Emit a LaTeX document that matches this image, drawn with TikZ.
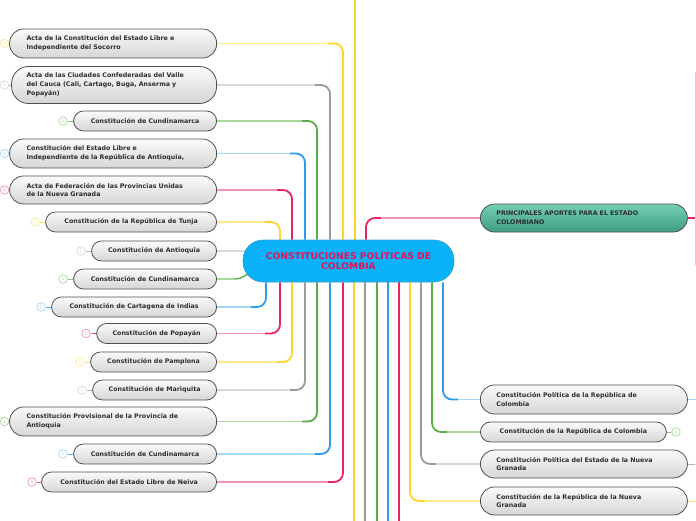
\documentclass[tikz,border=0pt]{standalone}
\usepackage{fontspec}
\setmainfont{DejaVu Sans}
\usetikzlibrary{calc,backgrounds}
\definecolor{ylw}{HTML}{FFD52A}
\definecolor{ylwL}{HTML}{FFE98F}
\definecolor{gry}{HTML}{9B9B9B}
\definecolor{gryL}{HTML}{D9D9D9}
\definecolor{grn}{HTML}{5CAD48}
\definecolor{grnL}{HTML}{A9D89C}
\definecolor{blu}{HTML}{2C9CE8}
\definecolor{bluL}{HTML}{A3D6F7}
\definecolor{pnk}{HTML}{E82560}
\definecolor{pnkL}{HTML}{F494B4}
\definecolor{bord}{HTML}{505050}
\definecolor{boxtop}{HTML}{FAFAFA}
\definecolor{boxbot}{HTML}{D6D6D6}
\definecolor{txt}{HTML}{2E2E2E}
\definecolor{cfill}{HTML}{0AB1F7}
\definecolor{cbord}{HTML}{3A9FD6}
\definecolor{ctxt}{HTML}{E3145C}
\definecolor{tealT}{HTML}{74CFB4}
\definecolor{tealB}{HTML}{3F9D83}
\tikzset{
  box/.style={draw=bord, line width=0.8pt, top color=boxtop, bottom color=boxbot,
    font=\bfseries\fontsize{6.3}{8.8}\selectfont, text=txt, inner sep=0pt, anchor=east},
  sz/.style n args={3}{minimum width=#1, minimum height=#2, rounded corners=#3},
  tw/.style={text width=#1, align=left},
  circ/.style={circle, draw=#1L, fill=white, line width=0.7pt, minimum size=8.5pt,
    inner sep=0pt, font=\fontsize{4.5}{5}\selectfont, text=#1L},
  trunk/.style={line width=1.8pt, rounded corners=9pt},
  twig/.style={line width=1.4pt},
}
\newcommand\lconn[3]{%
  \draw[twig,#1L] (#2.east) -- ($(#3 |- #2.east)+(-15pt,0)$);
  \draw[trunk,#1] ($(#3 |- #2.east)+(-15pt,0)$) -| (#3);
}
\newcommand\rconn[3]{%
  \draw[trunk,#1] (#3) |- ($(#3 |- #2.west)+(15pt,0)$);
  \draw[twig,#1L] ($(#3 |- #2.west)+(15pt,0)$) -- (#2.west);
}
\newcommand\cconn[3]{%
  \draw[line width=1pt,#1!75] (#2) -- (#3);
}
\begin{document}
\begin{tikzpicture}[x=1pt,y=-1pt]
\useasboundingbox (0,0) rectangle (696,520);
\clip (0,0) rectangle (696,520);
% centre node
\node[draw=cbord, fill=cfill, line width=0.6pt, rounded corners=20pt,
  minimum width=211pt, minimum height=42pt, inner sep=0pt, align=center,
  font=\bfseries\fontsize{9.2}{10.7}\selectfont, text=ctxt] (cn) at (348.5,261)
  {CONSTITUCIONES POLITICAS DE\\COLOMBIA};
% trunk coordinates
\coordinate (vt1) at ([xshift=-68.5pt]cn.north);
\coordinate (vt2) at ([xshift=-56.5pt]cn.north);
\coordinate (vt3) at ([xshift=-43.5pt]cn.north);
\coordinate (vt4) at ([xshift=-31.5pt]cn.north);
\coordinate (vt5) at ([xshift=-18.5pt]cn.north);
\coordinate (vt6) at ([xshift=-5.5pt]cn.north);
\coordinate (vt7) at ([xshift=6.5pt]cn.north);
\coordinate (vt8) at ([xshift=17.5pt]cn.north);
\coordinate (vb1) at ([xshift=-82.5pt]cn.south);
\coordinate (vb2) at ([xshift=-68.5pt]cn.south);
\coordinate (vb3) at ([xshift=-56.5pt]cn.south);
\coordinate (vb4) at ([xshift=-43.5pt]cn.south);
\coordinate (vb5) at ([xshift=-31.5pt]cn.south);
\coordinate (vb6) at ([xshift=-18.5pt]cn.south);
\coordinate (vb7) at ([xshift=-5.5pt]cn.south);
\coordinate (vb8) at ([xshift=5.5pt]cn.south);
\coordinate (vb9) at ([xshift=16.5pt]cn.south);
\coordinate (vb10) at ([xshift=28.5pt]cn.south);
\coordinate (vb11) at ([xshift=39.5pt]cn.south);
\coordinate (vb12) at ([xshift=50.5pt]cn.south);
\coordinate (vb13) at ([xshift=61.5pt]cn.south);
\coordinate (vb14) at ([xshift=72.5pt]cn.south);
\coordinate (vb15) at ([xshift=83.5pt]cn.south);
\coordinate (vb16) at ([xshift=94.5pt]cn.south);
\coordinate (top1) at (355,-3);
\coordinate (bo8) at (354,523);
\coordinate (bo9) at (365,523);
\coordinate (bo10) at (377,523);
\coordinate (bo11) at (388,523);
\coordinate (bo12) at (399,523);
\coordinate (pe) at (699,218);
\coordinate (pv1) at (695,72);
\coordinate (pv2) at (695,265);
\coordinate (re1) at (699,399.5);
% left nodes
\node[box, sz={207pt}{29pt}{14pt}, tw=173pt] (n1) at (217,43.5) {Acta de la Constitución del Estado Libre e\\Independiente del Socorro};
\node[box, sz={205pt}{37pt}{17pt}, tw=175pt] (n2) at (217,85) {Acta de las Ciudades Confederadas del Valle\\del Cauca (Cali, Cartago, Buga, Anserma y\\Popayán)};
\node[box, sz={143pt}{20pt}{10pt}] (n3) at (217,121) {Constitución de Cundinamarca};
\node[box, sz={207pt}{29pt}{14pt}, tw=173pt] (n4) at (217,153.5) {Constitución del Estado Libre e\\Independiente de la República de Antioquia,};
\node[box, sz={207pt}{28pt}{14pt}, tw=173pt] (n5) at (217,190) {Acta de Federación de las Provincias Unidas\\de la Nueva Granada};
\node[box, sz={171pt}{20pt}{10pt}] (n6) at (217,222) {Constitución de la República de Tunja};
\node[box, sz={125pt}{20pt}{10pt}] (n7) at (217,251) {Constitución de Antioquia};
\node[box, sz={143pt}{20pt}{10pt}] (n8) at (217,279) {Constitución de Cundinamarca};
\node[box, sz={165pt}{20pt}{10pt}] (n9) at (217,307) {Constitución de Cartagena de Indias};
\node[box, sz={120pt}{20pt}{10pt}] (n10) at (217,333.5) {Constitución de Popayán};
\node[box, sz={126pt}{20pt}{10pt}] (n11) at (217,362) {Constitución de Pamplona};
\node[box, sz={124pt}{20pt}{10pt}] (n12) at (217,390) {Constitución de Mariquita};
\node[box, sz={207pt}{29pt}{14pt}, tw=173pt] (n13) at (217,421.5) {Constitución Provisional de la Provincia de\\Antioquia};
\node[box, sz={143pt}{20pt}{10pt}] (n14) at (217,454) {Constitución de Cundinamarca};
\node[box, sz={175pt}{20pt}{10pt}] (n15) at (217,482) {Constitución del Estado Libre de Neiva};
% right nodes
\node[box, anchor=west, top color=tealT, bottom color=tealB, draw=bord, sz={207pt}{28pt}{14pt}, tw=175pt] (pa) at (480,218) {PRINCIPALES APORTES PARA EL ESTADO\\COLOMBIANO};
\node[box, anchor=west, sz={207pt}{29pt}{14pt}, tw=175pt] (r1) at (480,399.5) {Constitución Política de la República de\\Colombia};
\node[box, anchor=west, sz={186pt}{20pt}{10pt}] (r2) at (480,432) {Constitución de la República de Colombia};
\node[box, anchor=west, sz={207pt}{28pt}{14pt}, tw=175pt] (r3) at (480,464) {Constitución Política del Estado de la Nueva\\Granada};
\node[box, anchor=west, sz={207pt}{28pt}{14pt}, tw=175pt] (r4) at (480,501) {Constitución de la República de la Nueva\\Granada};
% circles
\node[circ=ylw] (c1) at (4.6,43.5) {1};
\node[circ=gry] (c2) at (4.6,85) {1};
\node[circ=grn] (c3) at (63,121) {1};
\node[circ=blu] (c4) at (4.6,153.5) {1};
\node[circ=pnk] (c5) at (4.6,190) {1};
\node[circ=ylw] (c6) at (35,222) {1};
\node[circ=gry] (c7) at (81,251) {1};
\node[circ=grn] (c8) at (63,279) {1};
\node[circ=blu] (c9) at (41,307) {1};
\node[circ=pnk] (c10) at (86,333.5) {1};
\node[circ=ylw] (c11) at (80,362) {1};
\node[circ=gry] (c12) at (82,390) {1};
\node[circ=grn] (c13) at (4.6,421.5) {1};
\node[circ=blu] (c14) at (63,454) {1};
\node[circ=pnk] (c15) at (32,482) {1};
\node[circ=grn] (cr2) at (676,432) {1};
\node[circ=gry] (cr3) at (700,464) {};
\node[circ=ylw] (cr4) at (700,501) {};
\begin{scope}[on background layer]
% circle links
\cconn{ylw}{c1}{n1}\cconn{gry}{c2}{n2}\cconn{grn}{c3}{n3}\cconn{blu}{c4}{n4}
\cconn{pnk}{c5}{n5}\cconn{ylw}{c6}{n6}\cconn{gry}{c7}{n7}\cconn{grn}{c8}{n8}
\cconn{blu}{c9}{n9}\cconn{pnk}{c10}{n10}\cconn{ylw}{c11}{n11}\cconn{gry}{c12}{n12}
\cconn{grn}{c13}{n13}\cconn{blu}{c14}{n14}\cconn{pnk}{c15}{n15}
\cconn{grn}{r2}{cr2}\cconn{gry}{r3}{cr3}\cconn{ylw}{r4}{cr4}
% connectors
\lconn{ylw}{n1}{vt6}
\lconn{gry}{n2}{vt5}
\lconn{grn}{n3}{vt4}
\lconn{blu}{n4}{vt3}
\lconn{pnk}{n5}{vt2}
\lconn{ylw}{n6}{vt1}
\draw[twig,gryL] (n7.east) -- ($(cn.west |- n7.east)+(8pt,0)$);
\draw[twig,grnL] (n8.east) -- ($(n8.east)+(18pt,0)$);
\draw[twig,grn] ($(n8.east)+(18pt,0)$) to[out=0,in=200] ($(cn.west)+(8pt,-12pt)$);
\lconn{blu}{n9}{vb1}
\lconn{pnk}{n10}{vb2}
\lconn{ylw}{n11}{vb3}
\lconn{gry}{n12}{vb4}
\lconn{grn}{n13}{vb5}
\lconn{blu}{n14}{vb6}
\lconn{pnk}{n15}{vb7}
\draw[trunk,ylw] (vt7) -- (top1);
\rconn{pnk}{pa}{vt8}
\draw[twig,pnk] (pa.east) -- (pe);
\draw[line width=1pt,pnkL!60] (pv1) -- (pv2);
\draw[twig,bluL] (r1.east) -- (re1);
\draw[trunk,ylw] (vb8) -- (bo8);
\draw[trunk,gry] (vb9) -- (bo9);
\draw[trunk,grn] (vb10) -- (bo10);
\draw[trunk,blu] (vb11) -- (bo11);
\draw[trunk,pnk] (vb12) -- (bo12);
\rconn{ylw}{r4}{vb13}
\rconn{gry}{r3}{vb14}
\rconn{grn}{r2}{vb15}
\rconn{blu}{r1}{vb16}
\end{scope}
\end{tikzpicture}
\end{document}
